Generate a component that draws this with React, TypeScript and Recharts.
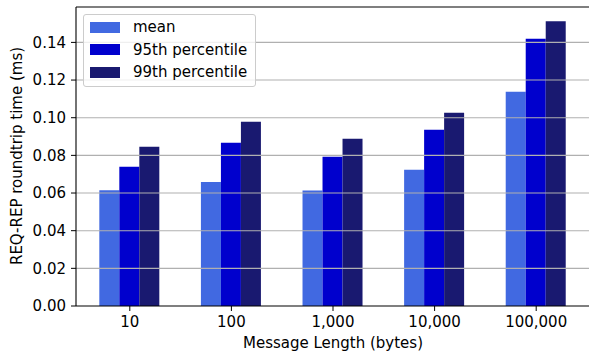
import { Bar, BarChart, Label, ReferenceLine, XAxis, YAxis } from "recharts";

const categories = ["10", "100", "1,000", "10,000", "100,000"];
const meanValues = [0.0615, 0.0658, 0.0614, 0.0723, 0.1138];
const p95Values = [0.0739, 0.0867, 0.0793, 0.0936, 0.142];
const p99Values = [0.0846, 0.0979, 0.0888, 0.1027, 0.1512];
const yTicks = [0, 0.02, 0.04, 0.06, 0.08, 0.1, 0.12, 0.14];
const yMax = 0.1588;

const series = [
  { key: "mean", name: "mean", color: "#4169E1" },
  { key: "p95", name: "95th percentile", color: "#0000CD" },
  { key: "p99", name: "99th percentile", color: "#191970" },
];

const rows = categories.map((c, i) => ({ name: c, mean: meanValues[i], p95: p95Values[i], p99: p99Values[i] }));

const font = "'DejaVu Sans', sans-serif";
const fs = 15;

function LegendBox() {
  return (
    <div
      style={{
        position: "absolute",
        left: 83,
        top: 14,
        width: 171,
        height: 71,
        border: "1px solid #cccccc",
        borderRadius: 3,
        background: "rgba(255,255,255,0.8)",
        fontFamily: font,
        fontSize: fs,
        color: "#000",
      }}
    >
      {series.map((s, i) => (
        <div key={s.key} style={{ position: "absolute", left: 6, top: 1 + i * 22.5, height: 22, display: "flex", alignItems: "center" }}>
          <div style={{ width: 30, height: 11, background: s.color }} />
          <span style={{ marginLeft: 13, whiteSpace: "nowrap" }}>{s.name}</span>
        </div>
      ))}
    </div>
  );
}

export default function App() {
  return (
    <div style={{ position: "absolute", left: 0, top: 0, width: 589, height: 356, overflow: "hidden", background: "#fff" }}>
      <BarChart
        width={600}
        height={356}
        data={rows}
        margin={{ top: 7, right: 10, bottom: 0, left: 0 }}
        barGap={0}
        barCategoryGap="20%"
      >
        <XAxis
          dataKey="name"
          height={50}
          padding={{ left: 3, right: 3 }}
          axisLine={{ stroke: "#000", strokeWidth: 1.1 }}
          tickLine={{ stroke: "#000" }}
          tickSize={5}
          tick={{ fill: "#000", fontSize: fs, fontFamily: font, dy: 3 }}
        >
          <Label
            content={() => (
              <text x={333} y={348} textAnchor="middle" fontFamily={font} fontSize={fs} fill="#000">
                Message Length (bytes)
              </text>
            )}
          />
        </XAxis>
        <YAxis
          width={76}
          domain={[0, yMax]}
          ticks={yTicks}
          interval={0}
          tickFormatter={(v: number) => v.toFixed(2)}
          axisLine={{ stroke: "#000", strokeWidth: 1.1 }}
          tickLine={{ stroke: "#000" }}
          tickSize={5}
          tick={{ fill: "#000", fontSize: fs, fontFamily: font, dx: -3 }}
        >
          <Label
            content={() => (
              <text x={17} y={156} transform="rotate(-90, 17, 156)" textAnchor="middle" dominantBaseline="middle" fontFamily={font} fontSize={fs} fill="#000">
                REQ-REP roundtrip time (ms)
              </text>
            )}
          />
        </YAxis>
        {series.map((s) => (
          <Bar key={s.key} dataKey={s.key} name={s.name} fill={s.color} isAnimationActive={false} />
        ))}
        {yTicks.slice(1).map((t) => (
          <ReferenceLine key={t} y={t} stroke="#b0b0b0" strokeWidth={1.1} />
        ))}
        <ReferenceLine y={yMax} stroke="#000" strokeWidth={1.1} />
      </BarChart>
      <LegendBox />
    </div>
  );
}
